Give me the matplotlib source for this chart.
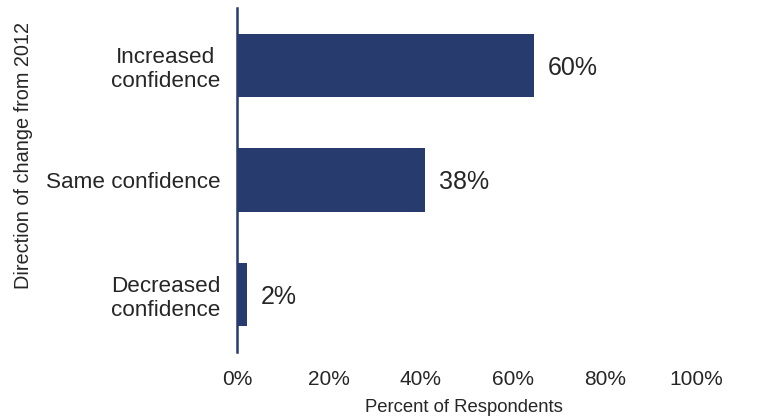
import matplotlib.pyplot as plt

categories = ["Increased\nconfidence", "Same confidence", "Decreased\nconfidence"]
values = [60, 38, 2]
xticks = [0, 20, 40, 60, 80, 100]

navy = "#283b6e"
txt = "#262626"

# the source chart spaces its tick labels a bit tighter than its bars
tick_scale = 0.93

plt.rcParams['font.family'] = ['Liberation Sans', 'DejaVu Sans']

fig = plt.figure(figsize=(7.6, 4.2), dpi=100)
ax = fig.add_axes([0.312, 0.162, 0.65, 0.819])

pos = list(range(len(categories)))
ax.barh(pos, values, height=0.55, color=navy)
ax.set_ylim(2.5, -0.5)
ax.set_xlim(0, 100)

for p, v in zip(pos, values):
    ax.text(v + 2.8, p + 0.02, "{}%".format(v), va='center', ha='left', fontsize=18, color=txt)

ax.set_yticks(pos)
ax.set_yticklabels(categories, fontsize=16.2, color=txt, multialignment='center')
ax.set_xticks([t * tick_scale for t in xticks])
ax.set_xticklabels(["{}%".format(t) for t in xticks], fontsize=15, color=txt)
ax.tick_params(axis='both', length=0)
ax.tick_params(axis='y', pad=12)
ax.tick_params(axis='x', pad=13)

for s in ['top', 'right', 'bottom']:
    ax.spines[s].set_visible(False)
ax.spines['left'].set_color(navy)
ax.spines['left'].set_linewidth(1.8)

ax.set_xlabel("Percent of Respondents", fontsize=13.3, color=txt)
ax.xaxis.set_label_coords(0.46, -0.138)
fig.text(0.031, 0.629, "Direction of change from 2012", rotation=90,
         va='center', ha='center', fontsize=14.3, color=txt)

fig.savefig("out.png", dpi=100)
